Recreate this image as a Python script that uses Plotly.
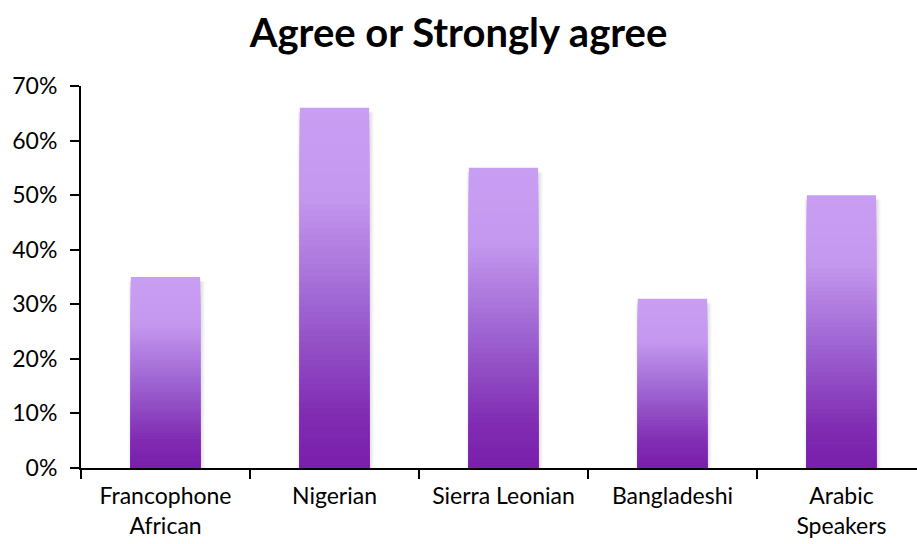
import plotly.graph_objects as go

categories = ["Francophone<br>African", "Nigerian", "Sierra Leonian", "Bangladeshi", "Arabic<br>Speakers"]
agree_share = [0.35, 0.66, 0.55, 0.31, 0.50]
tick_values = [0, 0.1, 0.2, 0.3, 0.4, 0.5, 0.6, 0.7]
tick_labels = ["0%", "10%", "20%", "30%", "40%", "50%", "60%", "70%"]

FONT = "Lato"
BAR_WIDTH = 0.41
N_SEG = 60

# gradient stops: fraction of bar height (from bottom) -> rgb
stops = [(0.0, (122, 30, 172)), (0.15, (128, 44, 178)), (0.45, (158, 100, 210)),
         (0.75, (196, 152, 238)), (1.0, (200, 158, 243))]


def grad_color(f):
    for (f0, c0), (f1, c1) in zip(stops[:-1], stops[1:]):
        if f0 <= f <= f1:
            t = (f - f0) / (f1 - f0) if f1 > f0 else 0
            r, g, b = (round(a + (b_ - a) * t) for a, b_ in zip(c0, c1))
            return f"rgb({r},{g},{b})"
    return "rgb(%d,%d,%d)" % stops[-1][1]


fig = go.Figure()

# soft drop shadow behind each bar
for alpha, grow in [(0.025, 0.045), (0.035, 0.03), (0.045, 0.016)]:
    fig.add_trace(go.Bar(
        x=categories,
        y=[v + 0.004 for v in agree_share],
        base=[-0.012] * len(agree_share),
        width=BAR_WIDTH + grow,
        offset=-BAR_WIDTH / 2 - grow / 2 + 0.006,
        marker=dict(color=f"rgba(0,0,0,{alpha})", line=dict(width=0)),
        hoverinfo="skip",
        showlegend=False,
    ))

# each bar is painted as nested layers shrinking from its full height down,
# so the visible band of every layer shades it from a light top to a dark base
for k in range(N_SEG):
    frac_top = 1 - k / N_SEG
    fig.add_trace(go.Bar(
        x=categories,
        y=[v * frac_top for v in agree_share],
        base=[0] * len(agree_share),
        width=BAR_WIDTH,
        marker=dict(color=grad_color(frac_top - 0.5 / N_SEG), line=dict(width=0)),
        hoverinfo="skip",
        showlegend=False,
    ))

fig.update_layout(
    width=917,
    height=544,
    barmode="overlay",
    plot_bgcolor="white",
    paper_bgcolor="white",
    margin=dict(l=81, r=0, t=86, b=76, autoexpand=False),
    title=dict(
        text="<b>Agree or Strongly agree</b>",
        x=0.5,
        xanchor="center",
        y=0.94,
        yanchor="middle",
        font=dict(family=FONT, size=40, color="black"),
    ),
    font=dict(family=FONT, size=22, color="black"),
    showlegend=False,
)

fig.update_xaxes(
    type="category",
    automargin=False,
    tickson="boundaries",
    ticks="outside",
    ticklen=9,
    tickwidth=2,
    tickcolor="black",
    showline=True,
    linecolor="black",
    linewidth=2,
    showgrid=False,
    tickfont=dict(family=FONT, size=23, color="black"),
    ticklabelstandoff=6,
    range=[-0.5, 4.447],
)

fig.update_yaxes(
    automargin=False,
    range=[0, 0.7],
    tickvals=tick_values,
    ticktext=tick_labels,
    ticks="outside",
    ticklen=9,
    tickwidth=2,
    tickcolor="black",
    showline=True,
    linecolor="black",
    linewidth=2,
    showgrid=False,
    zeroline=False,
    tickfont=dict(family=FONT, size=23, color="black"),
    ticklabelstandoff=8,
)

fig.write_html("out.html")
